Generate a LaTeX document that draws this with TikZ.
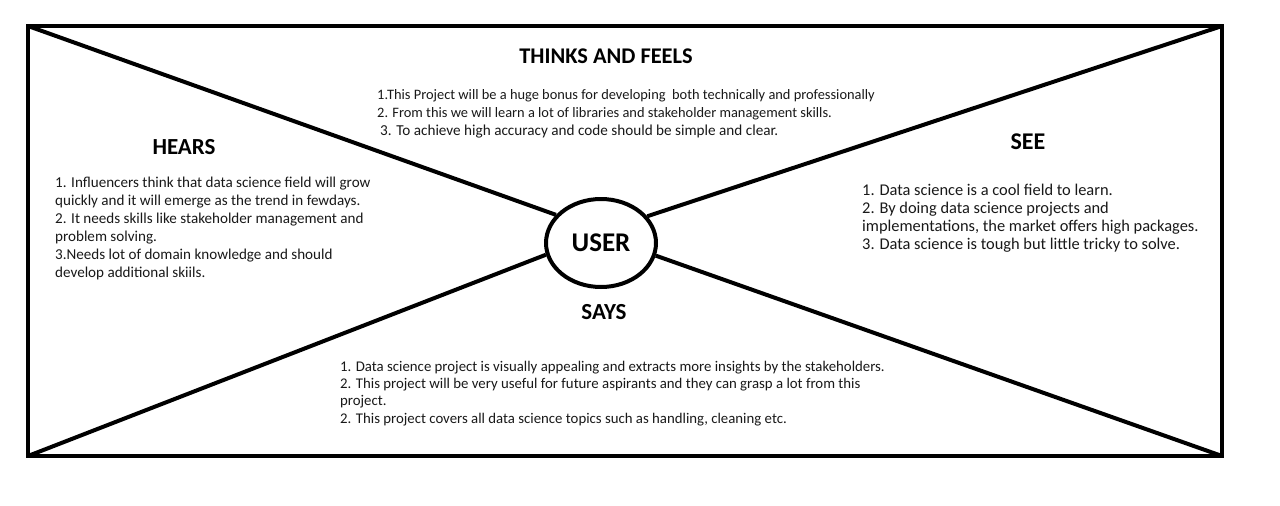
\documentclass[tikz,border=0pt]{standalone}
\usepackage{fontspec}
\setmainfont{Carlito}
\usetikzlibrary{shapes.geometric}
\begin{document}
\begin{tikzpicture}[x=1pt,y=-1pt,
  frame/.style={line width=4pt},
  spoke/.style={line width=4pt},
  head/.style={font=\bfseries\fontsize{23}{27}\selectfont, inner sep=0pt},
  body/.style={align=left, anchor=base west, inner sep=0pt, text=black!90},
  usernode/.style={draw, ellipse, line width=4pt, minimum width=110pt, minimum height=88pt, inner sep=0pt, font=\bfseries\fontsize{27}{30}\selectfont}
]
\useasboundingbox (0,0) rectangle (1280,506);
\fill[white] (0,0) rectangle (1280,506);
\coordinate (tl) at (28,26);
\coordinate (tr) at (1222,26);
\coordinate (bl) at (28,456);
\coordinate (br) at (1222,456);
\draw[frame, line join=miter] (tl) -- (tr) -- (br) -- (bl) -- cycle;
\node[usernode] (user) at (601,243) {USER};
\draw[spoke] (tl) -- (user.148);
\draw[spoke] (tr) -- (user.30);
\draw[spoke] (bl) -- (user.192);
\draw[spoke] (br) -- (user.347);

\node[head, font=\bfseries\fontsize{22.4}{26}\selectfont] (thinks) at (606,56) {THINKS AND FEELS};
\node[body, font=\fontsize{14.4}{18}\selectfont] (thinksbody) at (377,135) {1.This Project will be a huge bonus for developing\ \ both technically and professionally\\2. From this we will learn a lot of libraries and stakeholder management skills.\\\hspace*{3pt}{\fontsize{15.2}{18}\selectfont 3. To achieve high accuracy and code should be simple and clear.}};

\node[head] (hears) at (184,147) {HEARS};
\node[body, font=\fontsize{15.1}{18}\selectfont] (hearsbody) at (55,277) {1. Influencers think that data science field will grow\\quickly and it will emerge as the trend in fewdays.\\2. It needs skills like stakeholder management and\\problem solving.\\3.Needs lot of domain knowledge and should\\develop additional skiils.};

\node[head, font=\bfseries\fontsize{24}{28}\selectfont] (see) at (1028,142) {SEE};
\node[body, font=\fontsize{16.4}{18}\selectfont] (seebody) at (862,249.5) {1. Data science is a cool field to learn.\\2. By doing data science projects and\\implementations, the market offers high packages.\\3. Data science is tough but little tricky to solve.};

\node[head] (says) at (604,312) {SAYS};
\node[body, font=\fontsize{14.8}{17.3}\selectfont] (saysbody) at (340,423) {1. Data science project is visually appealing and extracts more insights by the stakeholders.\\2. This project will be very useful for future aspirants and they can grasp a lot from this\\project.\\2. This project covers all data science topics such as handling, cleaning etc.};
\end{tikzpicture}
\end{document}
